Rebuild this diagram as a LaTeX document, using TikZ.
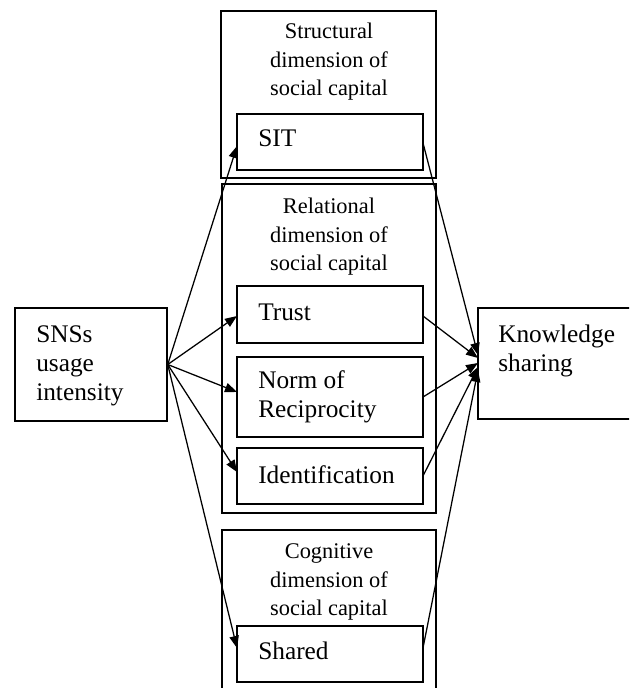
\documentclass[tikz,border=0pt]{standalone}
\usepackage{fontspec}
\setmainfont{Liberation Serif}
\usetikzlibrary{arrows.meta}
\begin{document}
\begin{tikzpicture}[x=0.75pt,y=-0.75pt,
  box/.style={draw,line width=1.1pt,inner sep=0pt},
  hdr/.style={inner sep=0pt,align=center,font=\fontsize{16.8}{21.4}\selectfont},
  txt/.style={inner sep=0pt,align=left,anchor=west,font=\fontsize{19}{21.8}\selectfont},
  arr/.style={line width=0.95pt,-{Triangle[length=9pt,width=7pt]}}]
\useasboundingbox (0,0) rectangle (629,688);
\clip (0,0) rectangle (629,688);
% boxes
\node[box,minimum width=114pt,minimum height=84.75pt] (sns) at (91,364.5) {};
\node[box,minimum width=161.25pt,minimum height=125.25pt] (struct) at (328.5,94.5) {};
\node[box,minimum width=139.5pt,minimum height=42pt] (sit) at (330,142) {};
\node[box,minimum width=160.5pt,minimum height=246.75pt] (rel) at (329,348.5) {};
\node[box,minimum width=139.5pt,minimum height=42.75pt] (trust) at (330,314.5) {};
\node[box,minimum width=139.5pt,minimum height=60pt] (norm) at (330,397) {};
\node[box,minimum width=139.5pt,minimum height=42pt] (ident) at (330,476) {};
\node[box,minimum width=160.5pt,minimum height=127.5pt] (cog) at (329,615) {};
\node[box,minimum width=139.5pt,minimum height=42pt] (shared) at (330,654) {};
\node[box,minimum width=121.5pt,minimum height=83.25pt] (know) at (559,363.5) {};
% texts
\node[txt] (snst) at (36,366) {SNSs\\usage\\intensity};
\node[hdr] (structt) at (329,62) {Structural\\dimension of\\social capital};
\node[txt] (sitt) at (258,138) {SIT};
\node[hdr] (relt) at (329,237) {Relational\\dimension of\\social capital};
\node[txt] (trustt) at (258,312) {Trust};
\node[txt] (normt) at (258,397) {Norm of\\Reciprocity};
\node[txt] (identt) at (258,475) {Identification};
\node[hdr] (cogt) at (329,582) {Cognitive\\dimension of\\social capital};
\node[txt] (sharedt) at (258,651) {Shared};
\node[txt] (knowt) at (498,351) {Knowledge\\sharing};
% connector end points
\coordinate (iSIT) at (237,146);
\coordinate (iTrust) at (237,316);
\coordinate (iNorm) at (237,392);
\coordinate (iIdent) at (237,472);
\coordinate (iShared) at (237,648);
\coordinate (oSIT) at (423,143);
\coordinate (oTrust) at (423,316);
\coordinate (oNorm) at (423,397);
\coordinate (oIdent) at (423,476);
\coordinate (oShared) at (423,648);
\coordinate (k1) at (478,355);
\coordinate (k2) at (478,358);
\coordinate (k3) at (478,363);
\coordinate (k4) at (478,367);
\coordinate (k5) at (478,370);
% arrows
\draw[arr] (sns.east) -- (iSIT);
\draw[arr] (sns.east) -- (iTrust);
\draw[arr] (sns.east) -- (iNorm);
\draw[arr] (sns.east) -- (iIdent);
\draw[arr] (sns.east) -- (iShared);
\draw[arr] (oSIT) -- (k1);
\draw[arr] (oTrust) -- (k2);
\draw[arr] (oNorm) -- (k3);
\draw[arr] (oIdent) -- (k4);
\draw[arr] (oShared) -- (k5);
\end{tikzpicture}
\end{document}
